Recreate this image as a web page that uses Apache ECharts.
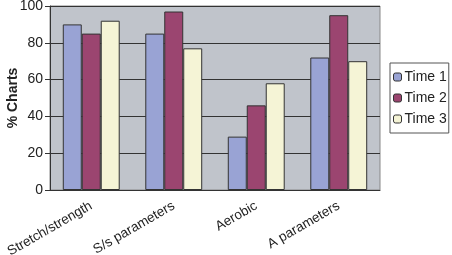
<!DOCTYPE html>
<html>
<head>
<meta charset="utf-8">
<script src="https://cdn.jsdelivr.net/npm/echarts@6/dist/echarts.min.js"></script>
<style>
    html, body { margin: 0; padding: 0; background: #fff; }
    #chart { width: 452px; height: 255px; }
</style>
</head>
<body>
<div id="chart"></div>
<script>
const categories = ["Stretch/strength", "S/s parameters", "Aerobic", "A parameters"];
const time1 = [90, 85, 29, 72];
const time2 = [85, 97, 46, 95];
const time3 = [92, 77, 58, 70];
const seriesNames = ["Time 1", "Time 2", "Time 3"];
const colors = ["#99a3d4", "#9b4570", "#f5f4d6"];

let chart = echarts.init(document.getElementById("chart"));

function makeSeries(name, data, color) {
    return {
        name: name,
        type: "bar",
        data: data,
        barGap: "0%",
        barCategoryGap: "31%",
        itemStyle: {
            color: color,
            borderColor: "#333",
            borderWidth: 1,
        },
    };
}

chart.setOption({
    animation: false,
    textStyle: { fontFamily: "Liberation Sans, Arial, sans-serif" },
    grid: {
        left: 50,
        right: 72,
        top: 6,
        bottom: 65,
        outerBoundsMode: "none",
        containLabel: false,
        show: true,
        backgroundColor: "#c0c4cb",
        borderColor: "#888",
        borderWidth: 1,
    },
    legend: {
        orient: "vertical",
        left: 390,
        top: 63,
        itemWidth: 8,
        itemHeight: 8,
        itemGap: 7,
        padding: [7, 2, 7, 3],
        borderColor: "#555",
        borderWidth: 1,
        backgroundColor: "#fff",
        itemStyle: { borderColor: "#333", borderWidth: 1 },
        textStyle: { fontSize: 14, color: "#222", padding: [0, 0, 0, -2] },
        data: seriesNames,
    },
    xAxis: {
        type: "category",
        data: categories,
        axisLine: { show: true, lineStyle: { color: "#333" } },
        axisTick: { show: false },
        axisLabel: {
            rotate: 30,
            interval: 0,
            fontSize: 13.5,
            color: "#222",
            margin: 15,
        },
    },
    yAxis: {
        type: "value",
        min: 0,
        max: 100,
        interval: 20,
        name: "% Charts",
        nameLocation: "middle",
        nameGap: 30,
        nameMoveOverlap: false,
        nameTextStyle: { fontSize: 14, fontWeight: "bold", color: "#222" },
        axisLine: { show: true, lineStyle: { color: "#333" } },
        axisTick: { show: true, length: 5, lineStyle: { color: "#333" } },
        axisLabel: { fontSize: 14, color: "#222", margin: 7 },
        splitLine: { show: true, lineStyle: { color: "#333", width: 1 } },
    },
    series: [
        makeSeries(seriesNames[0], time1, colors[0]),
        makeSeries(seriesNames[1], time2, colors[1]),
        makeSeries(seriesNames[2], time3, colors[2]),
    ],
});
</script>
</body>
</html>
